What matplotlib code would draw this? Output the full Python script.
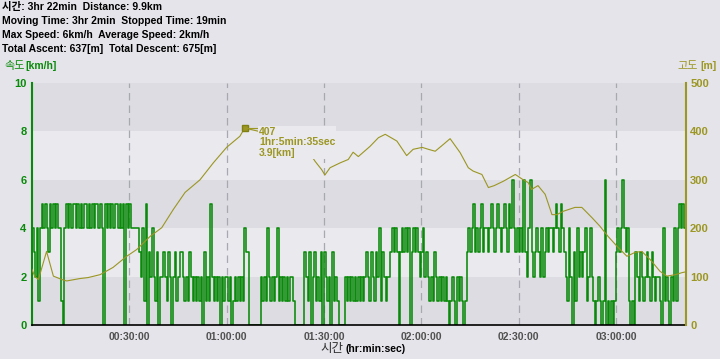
import numpy as np
import matplotlib
matplotlib.use("Agg")
import matplotlib.pyplot as plt

plt.rcParams['font.family'] = ['Liberation Sans', 'Noto Sans CJK KR']

# header summary lines
header = ["시간: 3hr 22min  Distance: 9.9km",
          "Moving Time: 3hr 2min  Stopped Time: 19min",
          "Max Speed: 6km/h  Average Speed: 2km/h",
          "Total Ascent: 637[m]  Total Descent: 675[m]"]

# speed (km/h), one digit every 30 sec, 10 minutes per string
speed_str = ["43241454543545454410",
             "45454554545455454545",
             "54540545454554545054",
             "54444432415032421302",
             "23213202312332121321",
             "21212031215212120212",
             "21201212121433000000",
             "02121421212412121212",
             "21000000321302312130",
             "32120312100002121212",
             "12121232132132413212",
             "23434303434340343432",
             "34232121321212121012",
             "10212101343453434534",
             "43454345434543546434",
             "34363246323432423434",
             "43454354321420314232",
             "34124210121016010101",
             "34346434101032132123",
             "21321221041210214145",
             "4545"]
speed = [int(c) for s in speed_str for c in s]
speed_t = np.arange(len(speed)) * 0.5  # minutes

# elevation profile (minutes, metres)
elev_min = [0, 0.9, 2, 4.5, 6.6, 9.2, 10.7, 14.8, 17.3, 21, 25, 29.2, 32.3, 36.4,
            40, 43.6, 47.2, 51.8, 55.9, 60, 64.1, 65.58, 70, 75.9, 80.5, 85.1,
            87.3, 89.3, 90.3, 91.9, 95, 97.5, 99, 100.6, 104.2, 106.8, 108.9,
            112.5, 115.5, 117.5, 120.3, 122.2, 124.3, 126.8, 128.9, 132, 134.5,
            136, 138.7, 140.7, 142.5, 145.3, 149, 151, 153, 154, 156, 158.2,
            160.3, 161.8, 163.8, 167.4, 169.5, 172.6, 175.1, 177.6, 180.3,
            183.4, 185.9, 188, 190.6, 193.6, 195.7, 198.3, 200.3, 201.6]
elev_m = [115, 100, 94, 152, 101, 94, 91, 96, 98, 104, 119, 142, 156, 183,
          201, 239, 274, 300, 335, 367, 390, 407, 400, 392, 360, 360,
          338, 321, 310, 325, 335, 342, 357, 348, 369, 387, 394,
          380, 350, 363, 367, 363, 359, 373, 385, 356, 325,
          318, 311, 284, 288, 297, 311, 302, 294, 280, 288, 270,
          228, 228, 235, 243, 243, 222, 204, 183, 163,
          142, 150, 152, 135, 111, 101, 104, 108, 110]

xticks = [30, 60, 90, 120, 150, 180]
xtick_labels = ["00:30:00", "01:00:00", "01:30:00", "02:00:00", "02:30:00", "03:00:00"]

green = '#0a8a0a'
olive = '#9c9622'
bg = '#e4e4ea'
light_band = '#e9e9ee'

fig = plt.figure(figsize=(7.2, 3.59), dpi=100, facecolor=bg)
ax = fig.add_axes([0.0444, 0.0947, 0.9083, 0.6741])
ax.set_facecolor(light_band)
for lo in [0, 4, 8]:
    ax.axhspan(lo, lo + 2, color='#dcdce2', lw=0, zorder=0)
for t in xticks:
    ax.axvline(t, color='#a8a8b0', lw=0.9, ls=(0, (6, 4)), zorder=1)

ax.step(speed_t, speed, where='post', color=green, lw=1.15, zorder=2)
ax.set_xlim(0, 201.6)
ax.set_ylim(0, 10)
ax.set_yticks([0, 2, 4, 6, 8, 10])
ax.tick_params(axis='y', length=0, pad=4, colors=green, labelsize=8)
for lb in ax.get_yticklabels():
    lb.set_fontweight('bold')
ax.set_xticks(xticks)
ax.set_xticklabels(xtick_labels)
ax.tick_params(axis='x', length=0, pad=5, colors='#505050', labelsize=7.5)
for lb in ax.get_xticklabels():
    lb.set_fontweight('bold')
ax.spines['top'].set_visible(False)
ax.spines['right'].set_visible(False)
ax.spines['left'].set_color(green)
ax.spines['left'].set_linewidth(1.5)
ax.spines['bottom'].set_color('black')
ax.spines['bottom'].set_linewidth(1.2)

ax2 = ax.twinx()
ax2.plot(elev_min, elev_m, color=olive, lw=0.8, zorder=3)
ax2.set_ylim(0, 500)
ax2.set_yticks([0, 100, 200, 300, 400, 500])
ax2.tick_params(axis='y', length=0, pad=3, colors=olive, labelsize=8)
for lb in ax2.get_yticklabels():
    lb.set_fontweight('bold')
for s in ['top', 'left', 'bottom']:
    ax2.spines[s].set_visible(False)
ax2.spines['right'].set_color(olive)
ax2.spines['right'].set_linewidth(1.5)

# peak annotation
i = int(np.argmax(elev_m))
ax2.plot(elev_min[i], elev_m[i], 's', color=olive, ms=4, mec='#808010', zorder=5)
ax2.plot([elev_min[i], elev_min[i] + 4], [elev_m[i], elev_m[i]], color=olive, lw=0.8,
         zorder=5)
ax2.text(elev_min[i] + 4.4, elev_m[i] + 3, "407\n1hr:5min:35sec\n3.9[km]", color=olive,
         fontsize=7.5, fontweight='bold', va='top', ha='left', linespacing=1.1,
         zorder=6, bbox=dict(boxstyle='square,pad=0.1', fc=light_band, ec='none'))

# header and labels
for k, line in enumerate(header):
    fig.text(0.003, 1 - (7 + 14 * k) / 359, line, fontsize=7.5, fontweight='bold',
             va='center', ha='left', color='black')
fig.text(0.006, 1 - 66 / 359, "속도", fontsize=8, color=green, va='center')
fig.text(0.079, 1 - 66 / 359, "[km/h]", fontsize=7.5, color=green, va='center',
         ha='right', fontweight='bold')
fig.text(0.969, 1 - 66 / 359, "고도", fontsize=8, color=olive, va='center', ha='right')
fig.text(0.995, 1 - 66 / 359, "[m]", fontsize=7.5, color=olive, va='center',
         ha='right', fontweight='bold')
fig.text(0.445, 1 - 349 / 359, "시간", fontsize=9, color='#303030', va='center')
fig.text(0.480, 1 - 349 / 359, "(hr:min:sec)", fontsize=7.5, color='black',
         va='center', fontweight='bold')

fig.savefig('out.png', dpi=100, facecolor=bg)
